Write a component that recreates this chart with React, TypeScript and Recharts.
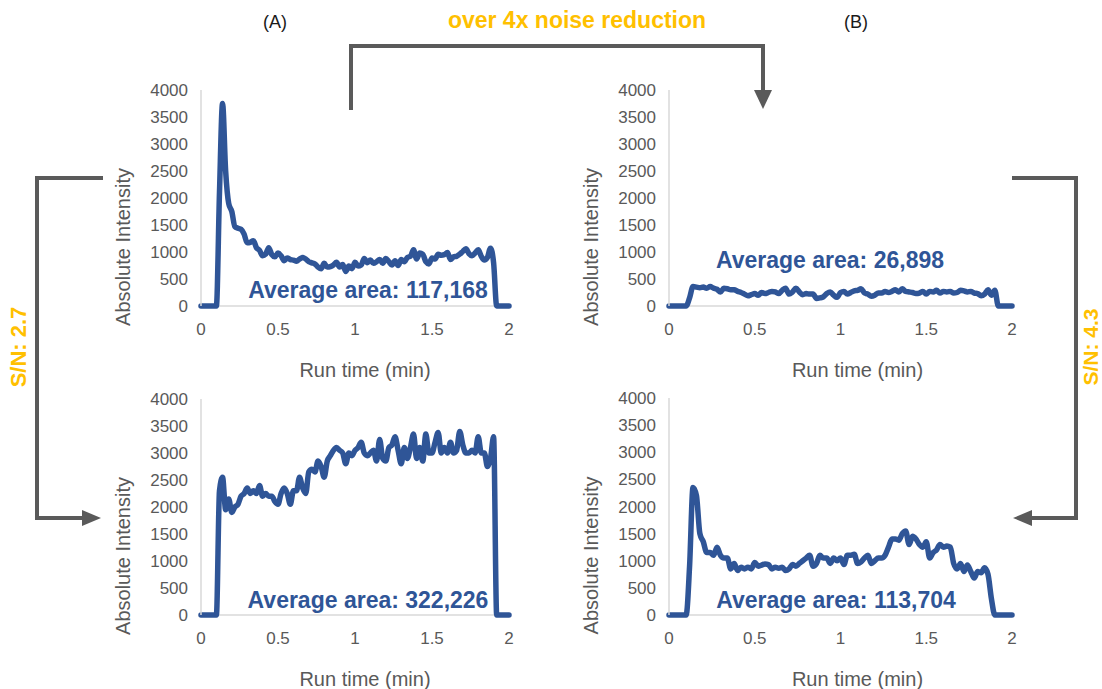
import React from 'react';
import { LineChart, Line, XAxis, YAxis, Label, CartesianGrid } from 'recharts';

const TIME = [
  0, 0.02, 0.04, 0.06, 0.08, 0.1, 0.12, 0.14, 0.16, 0.18,
  0.2, 0.22, 0.24, 0.26, 0.28, 0.3, 0.32, 0.34, 0.36, 0.38,
  0.4, 0.42, 0.44, 0.46, 0.48, 0.5, 0.52, 0.54, 0.56, 0.58,
  0.6, 0.62, 0.64, 0.66, 0.68, 0.7, 0.72, 0.74, 0.76, 0.78,
  0.8, 0.82, 0.84, 0.86, 0.88, 0.9, 0.92, 0.94, 0.96, 0.98,
  1, 1.02, 1.04, 1.06, 1.08, 1.1, 1.12, 1.14, 1.16, 1.18,
  1.2, 1.22, 1.24, 1.26, 1.28, 1.3, 1.32, 1.34, 1.36, 1.38,
  1.4, 1.42, 1.44, 1.46, 1.48, 1.5, 1.52, 1.54, 1.56, 1.58,
  1.6, 1.62, 1.64, 1.66, 1.68, 1.7, 1.72, 1.74, 1.76, 1.78,
  1.8, 1.82, 1.84, 1.86, 1.88, 1.9, 1.92, 1.94, 1.96, 1.98,
  2,
];

// (A) top: before
const A_TOP = [
  0, 0, 0, 0, 0, 0, 2100, 3750, 2500, 1900,
  1750, 1470, 1440, 1420, 1330, 1170, 1180, 1210, 1080, 1030,
  930, 960, 1080, 950, 910, 980, 930, 840, 890, 860,
  850, 830, 870, 900, 870, 820, 800, 780, 720, 690,
  790, 720, 730, 760, 810, 720, 770, 640, 740, 690,
  810, 740, 760, 880, 800, 850, 790, 820, 860, 790,
  880, 820, 760, 840, 750, 860, 820, 900, 920, 1040,
  870, 980, 960, 820, 780, 890, 870, 960, 940, 950,
  990, 860, 910, 920, 960, 1010, 1060, 970, 930, 980,
  1040, 920, 850, 900, 1070, 800, 0, 0, 0, 0,
  0,
];

// (B) top: after
const B_TOP = [
  0, 0, 0, 0, 0, 0, 150, 360, 350, 340,
  350, 330, 360, 330, 310, 260, 330, 320, 300, 300,
  270, 250, 220, 190, 210, 230, 200, 250, 230, 250,
  270, 260, 230, 290, 330, 220, 260, 330, 260, 210,
  230, 220, 220, 140, 150, 170, 230, 260, 200, 160,
  250, 270, 220, 250, 280, 290, 320, 240, 220, 180,
  200, 240, 240, 270, 250, 270, 300, 260, 320, 270,
  260, 250, 230, 240, 270, 220, 270, 260, 290, 240,
  270, 260, 270, 240, 250, 290, 280, 260, 270, 240,
  230, 190, 220, 300, 200, 290, 0, 0, 0, 0,
  0,
];

// (A) bottom
const A_BOT = [
  0, 0, 0, 0, 0, 0, 2300, 2550, 1950, 2150,
  1900, 2000, 2050, 2200, 2250, 2350, 2250, 2300, 2250, 2400,
  2200, 2250, 2200, 2200, 2100, 2050, 2250, 2350, 2250, 2050,
  2300, 2300, 2550, 2350, 2250, 2650, 2700, 2650, 2850, 2750,
  2550, 2850, 2950, 3050, 3100, 3050, 3000, 2800, 3000, 2950,
  3050, 3100, 3200, 3000, 2950, 3000, 3050, 2850, 3250, 2900,
  2850, 3100, 3150, 3300, 3050, 2800, 3100, 2900, 3100, 3350,
  2900, 3100, 2850, 3350, 3000, 3000, 3200, 3380, 3000, 3100,
  3000, 3200, 3000, 3050, 3400, 3150, 3000, 3000, 3050, 3000,
  3300, 3000, 3000, 2750, 2900, 3300, 0, 0, 0, 0,
  0,
];

// (B) bottom
const B_BOT = [
  0, 0, 0, 0, 0, 0, 900, 2350, 2200, 1500,
  1350, 1150, 1150, 1100, 1250, 1100, 1050, 1050, 850, 950,
  820, 880, 850, 880, 850, 970, 900, 920, 940, 930,
  850, 880, 860, 880, 820, 850, 930, 900, 950, 1000,
  1050, 1100, 900, 950, 1100, 1050, 1050, 950, 1050, 1000,
  1050, 930, 1100, 1100, 1120, 950, 980, 1050, 1100, 950,
  1000, 1050, 1050, 1100, 1250, 1400, 1400, 1380, 1500, 1550,
  1300, 1450, 1400, 1300, 1250, 1350, 1050, 1150, 1200, 1300,
  1250, 1270, 1250, 950, 850, 950, 800, 920, 800, 680,
  800, 780, 870, 750, 300, 0, 0, 0, 0, 0,
  0,
];

const X_TICKS = [0, 0.5, 1, 1.5, 2];
const Y_TICKS = [0, 500, 1000, 1500, 2000, 2500, 3000, 3500, 4000];
const AVG_LABELS = ['Average area: 117,168', 'Average area: 26,898', 'Average area: 322,226', 'Average area: 113,704'];

const FONT = '"Liberation Sans", Arial, Helvetica, sans-serif';
const BLUE = '#2F5597';
const GOLD = '#FFC000';
const GREY = '#595959';
const ARROW = '#5A5A5A';
const AXIS = '#D9D9D9';

type PanelProps = {
  plotLeft: number;
  plotTop: number;
  plotWidth: number;
  plotHeight: number;
  values: number[];
  xLabelDx: number;
};

function Panel({ plotLeft, plotTop, plotWidth, plotHeight, values, xLabelDx }: PanelProps) {
  const data = TIME.map((t, i) => ({ t, v: values[i] }));
  const yAxisW = 101;
  const mTop = 10;
  const mRight = 20;
  const xAxisH = 80;
  const width = yAxisW + plotWidth + mRight;
  const height = mTop + plotHeight + xAxisH;
  return (
    <div style={{ position: 'absolute', left: plotLeft - yAxisW, top: plotTop - mTop }}>
      <LineChart width={width} height={height} data={data} margin={{ top: mTop, right: mRight, bottom: 0, left: 0 }}>
        <CartesianGrid vertical={false} horizontalValues={[0]} stroke={AXIS} strokeWidth={1.5} strokeDasharray="" />
        <XAxis
          type="number"
          dataKey="t"
          domain={[0, 2]}
          ticks={X_TICKS}
          height={xAxisH}
          tickLine={false}
          tickSize={6}
          tickMargin={11}
          axisLine={false}
          tick={{ fill: GREY, fontSize: 17, fontFamily: FONT }}
          interval={0}
        >
          <Label
            content={(props: any) => {
              const vb = props.viewBox || {};
              const cx = vb.x + vb.width / 2 + xLabelDx;
              const cy = vb.y + 64;
              return (
                <text x={cx} y={cy} textAnchor="middle" dominantBaseline="central" fill={GREY} fontSize={20} fontFamily={FONT}>
                  Run time (min)
                </text>
              );
            }}
          />
        </XAxis>
        <YAxis
          type="number"
          domain={[0, 4000]}
          ticks={Y_TICKS}
          width={yAxisW}
          tickLine={false}
          tickSize={6}
          tickMargin={7}
          axisLine={{ stroke: AXIS, strokeWidth: 1.5 }}
          tick={{ fill: GREY, fontSize: 17, fontFamily: FONT }}
          interval={0}
        >
          <Label
            content={(props: any) => {
              const vb = props.viewBox || {};
              const cx = vb.x + vb.width - 78;
              const cy = vb.y + vb.height / 2 + 49;
              return (
                <text
                  x={cx}
                  y={cy}
                  transform={`rotate(-90 ${cx} ${cy})`}
                  textAnchor="middle"
                  dominantBaseline="central"
                  fill={GREY}
                  fontSize={20}
                  fontFamily={FONT}
                >
                  Absolute Intensity
                </text>
              );
            }}
          />
        </YAxis>
        <Line
          type="monotone"
          dataKey="v"
          stroke={BLUE}
          strokeWidth={5.5}
          strokeLinejoin="round"
          strokeLinecap="round"
          dot={false}
          activeDot={false}
          isAnimationActive={false}
        />
      </LineChart>
    </div>
  );
}

export default function App() {
  return (
    <div style={{ position: 'absolute', left: 0, top: 0, width: 1102, height: 689, background: '#fff', overflow: 'hidden' }}>
      <Panel plotLeft={201} plotTop={90} plotWidth={308} plotHeight={216} values={A_TOP} xLabelDx={10} />
      <Panel plotLeft={669} plotTop={90} plotWidth={343} plotHeight={216} values={B_TOP} xLabelDx={17} />
      <Panel plotLeft={201} plotTop={399} plotWidth={308} plotHeight={216} values={A_BOT} xLabelDx={10} />
      <Panel plotLeft={669} plotTop={398} plotWidth={343} plotHeight={217} values={B_BOT} xLabelDx={17} />
      <svg width={1102} height={689} style={{ position: 'absolute', left: 0, top: 0, pointerEvents: 'none' }}>
        <text x={275} y={28} textAnchor="middle" fontSize={18} fontFamily={FONT} fill="#1A1A1A">(A)</text>
        <text x={856} y={28} textAnchor="middle" fontSize={18} fontFamily={FONT} fill="#1A1A1A">(B)</text>
        <text x={577} y={28} textAnchor="middle" fontSize={23} fontWeight="bold" fontFamily={FONT} fill={GOLD}>over 4x noise reduction</text>

        {/* top bracket */}
        <path d="M351,110 V46 H763 V92" fill="none" stroke={ARROW} strokeWidth={4} />
        <polygon points="754,90 772,90 763,109" fill={ARROW} />

        {/* left bracket */}
        <path d="M103,178 H37 V518 H84" fill="none" stroke={ARROW} strokeWidth={4} />
        <polygon points="82,510 82,526 101,518" fill={ARROW} />

        {/* right bracket */}
        <path d="M1012,178 H1076 V518 H1030" fill="none" stroke={ARROW} strokeWidth={4} />
        <polygon points="1032,510 1032,526 1013,518" fill={ARROW} />

        <text x={18} y={347} transform="rotate(-90 18 347)" textAnchor="middle" dominantBaseline="central" fontSize={22} fontWeight="bold" fontFamily={FONT} fill={GOLD}>S/N: 2.7</text>
        <text x={1090} y={347} transform="rotate(-90 1090 347)" textAnchor="middle" dominantBaseline="central" fontSize={21} fontWeight="bold" fontFamily={FONT} fill={GOLD}>S/N: 4.3</text>

        <text x={368} y={298} textAnchor="middle" fontSize={23} fontWeight="bold" fontFamily={FONT} fill={BLUE}>{AVG_LABELS[0]}</text>
        <text x={830} y={268} textAnchor="middle" fontSize={23} fontWeight="bold" fontFamily={FONT} fill={BLUE}>{AVG_LABELS[1]}</text>
        <text x={368} y={608} textAnchor="middle" fontSize={23} fontWeight="bold" fontFamily={FONT} fill={BLUE}>{AVG_LABELS[2]}</text>
        <text x={836} y={608} textAnchor="middle" fontSize={23} fontWeight="bold" fontFamily={FONT} fill={BLUE}>{AVG_LABELS[3]}</text>
      </svg>
    </div>
  );
}
